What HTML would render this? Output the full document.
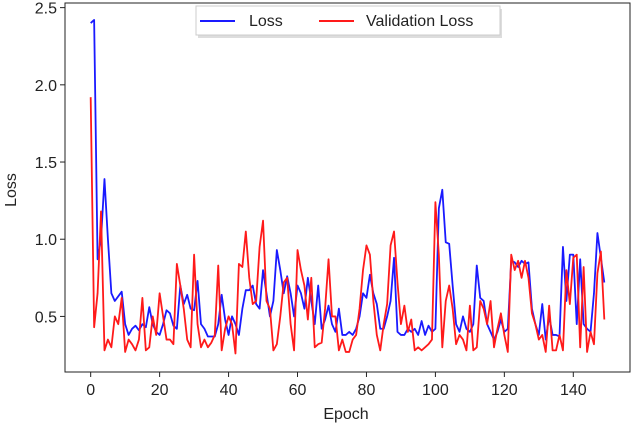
<!DOCTYPE html>
<html><head><meta charset="utf-8"><style>
html,body{margin:0;padding:0;background:#fff;}
svg{display:block;font-family:"Liberation Sans","DejaVu Sans",sans-serif;}
</style></head><body>
<svg id="chart" width="632" height="425" viewBox="0 0 632 425"></svg>
<script>
const epochs = Array.from({length:150},(_,i)=>i);
const lossValues = [2.40,2.42,0.87,1.0,1.39,1.0,0.65,0.60,0.63,0.66,0.45,0.38,0.42,0.44,0.41,0.45,0.43,0.56,0.45,0.40,
0.38,0.45,0.54,0.52,0.44,0.42,0.70,0.58,0.64,0.55,0.54,0.73,0.45,0.42,0.37,0.37,0.37,0.45,0.64,0.48,
0.38,0.50,0.45,0.38,0.55,0.67,0.67,0.70,0.58,0.55,0.80,0.65,0.50,0.60,0.93,0.80,0.65,0.76,0.65,0.50,
0.70,0.65,0.55,0.75,0.60,0.45,0.70,0.42,0.48,0.57,0.45,0.40,0.55,0.38,0.38,0.40,0.38,0.42,0.50,0.65,
0.62,0.77,0.65,0.58,0.42,0.42,0.50,0.60,0.88,0.40,0.38,0.38,0.42,0.40,0.42,0.38,0.47,0.38,0.44,0.40,
0.42,1.20,1.32,0.98,0.97,0.70,0.45,0.40,0.50,0.42,0.40,0.45,0.83,0.62,0.60,0.45,0.40,0.35,0.40,0.48,
0.40,0.42,0.86,0.85,0.82,0.86,0.84,0.85,0.55,0.45,0.38,0.58,0.35,0.50,0.38,0.38,0.37,0.95,0.60,0.90,
0.90,0.45,0.87,0.45,0.42,0.40,0.65,1.04,0.88,0.72];
const valLossValues = [1.92,0.43,0.65,1.18,0.28,0.35,0.30,0.50,0.45,0.62,0.27,0.35,0.32,0.28,0.35,0.62,0.28,0.30,0.50,0.38,
0.65,0.50,0.35,0.35,0.32,0.84,0.70,0.55,0.35,0.30,0.90,0.45,0.30,0.35,0.30,0.33,0.38,0.83,0.28,0.42,
0.50,0.45,0.26,0.84,0.82,1.05,0.75,0.58,0.60,0.95,1.12,0.60,0.55,0.28,0.32,0.50,0.72,0.75,0.45,0.28,
0.93,0.80,0.70,0.48,0.75,0.30,0.32,0.33,0.55,0.87,0.50,0.50,0.28,0.35,0.27,0.27,0.35,0.38,0.55,0.80,
0.96,0.90,0.60,0.38,0.28,0.45,0.58,0.96,1.05,0.72,0.45,0.57,0.40,0.48,0.28,0.30,0.28,0.30,0.32,0.35,
1.24,0.90,0.30,0.60,0.70,0.55,0.32,0.38,0.35,0.28,0.57,0.28,0.30,0.60,0.55,0.45,0.60,0.30,0.42,0.52,
0.38,0.27,0.90,0.80,0.86,0.75,0.86,0.75,0.52,0.45,0.35,0.38,0.27,0.57,0.28,0.28,0.38,0.28,0.80,0.58,
0.88,0.90,0.30,0.82,0.27,0.40,0.32,0.78,0.92,0.48];
const xTicks = [0,20,40,60,80,100,120,140];
const yTicks = [0.5,1.0,1.5,2.0,2.5];

const NS="http://www.w3.org/2000/svg";
const svg=document.getElementById('chart');
const L=65,R=630,T=3,B=372;
const xMin=-7.45,xMax=156.45,yMin=0.14,yMax=2.53;
const sx=v=>L+(v-xMin)/(xMax-xMin)*(R-L);
const sy=v=>B-(v-yMin)/(yMax-yMin)*(B-T);
function mk(tag,attrs,parent){const e=document.createElementNS(NS,tag);for(const k in attrs)e.setAttribute(k,attrs[k]);(parent||svg).appendChild(e);return e;}

const lossPath=mk('path',{d:lossValues.map((v,i)=>(i?'L':'M')+sx(epochs[i]).toFixed(2)+','+sy(v).toFixed(2)).join(''),fill:'none',stroke:'#1a1aff','stroke-width':1.8,'stroke-linejoin':'round'});


const valPath=mk('path',{d:valLossValues.map((v,i)=>(i?'L':'M')+sx(epochs[i]).toFixed(2)+','+sy(v).toFixed(2)).join(''),fill:'none',stroke:'#ff1a1a','stroke-width':1.8,'stroke-linejoin':'round'});



const frame=mk('rect',{x:L,y:T,width:R-L,height:B-T,fill:'none',stroke:'#222','stroke-width':1});



xTicks.forEach(t=>{
  const x=sx(t);
  const tk=mk('line',{x1:x,x2:x,y1:B,y2:B+5,stroke:'#222'});
  
  
  const tx=mk('text',{x:x,y:B+23,'text-anchor':'middle','font-size':16,fill:'#222'});
  tx.textContent=t;
  
  
});
yTicks.forEach(t=>{
  const y=sy(t);
  const tk=mk('line',{x1:L-5,x2:L,y1:y,y2:y,stroke:'#222'});
  
  
  const tx=mk('text',{x:L-8,y:y+6,'text-anchor':'end','font-size':16,fill:'#222'});
  tx.textContent=t.toFixed(1);
  
  
});
</script>
<svg width="632" height="425" style="position:absolute;left:0;top:0">
  <text x="346" y="419" text-anchor="middle" font-size="16" fill="#222" font-family="Liberation Sans, sans-serif">Epoch</text>
  <text transform="translate(16,190) rotate(-90)" text-anchor="middle" font-size="16" fill="#222" font-family="Liberation Sans, sans-serif">Loss</text>
  <g>
    <rect x="198" y="9" width="304" height="29" fill="#bbb" opacity="0.5"/>
    <rect x="196" y="6" width="304" height="29" fill="#fff" stroke="#ccc" stroke-width="1"/>
    <line x1="200" x2="235" y1="21" y2="21" stroke="#1a1aff" stroke-width="2"/>
    <text x="249" y="26" font-size="16" fill="#222" font-family="Liberation Sans, sans-serif">Loss</text>
    <line x1="319" x2="354" y1="21" y2="21" stroke="#ff1a1a" stroke-width="2"/>
    <text x="366" y="26" font-size="16" fill="#222" font-family="Liberation Sans, sans-serif">Validation Loss</text>
  </g>
</svg>
</body></html>
